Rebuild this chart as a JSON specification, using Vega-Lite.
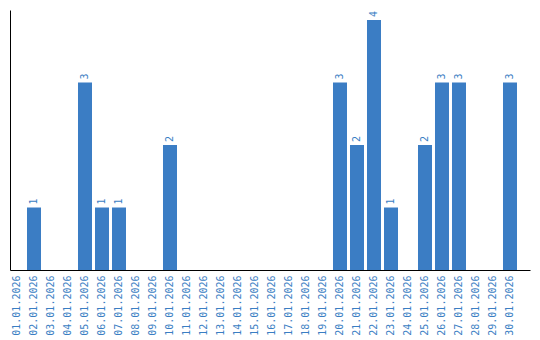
{
  "$schema": "https://vega.github.io/schema/vega-lite/v6.json",
  "width": 520,
  "height": 260,
  "autosize": {"type": "none"},
  "padding": {"left": 10, "top": 10, "right": 10, "bottom": 70},
  "background": "white",
  "config": {"view": {"stroke": null}},
  "data": {
    "values": [
      {"date": "01.01.2026", "count": 0},
      {"date": "02.01.2026", "count": 1},
      {"date": "03.01.2026", "count": 0},
      {"date": "04.01.2026", "count": 0},
      {"date": "05.01.2026", "count": 3},
      {"date": "06.01.2026", "count": 1},
      {"date": "07.01.2026", "count": 1},
      {"date": "08.01.2026", "count": 0},
      {"date": "09.01.2026", "count": 0},
      {"date": "10.01.2026", "count": 2},
      {"date": "11.01.2026", "count": 0},
      {"date": "12.01.2026", "count": 0},
      {"date": "13.01.2026", "count": 0},
      {"date": "14.01.2026", "count": 0},
      {"date": "15.01.2026", "count": 0},
      {"date": "16.01.2026", "count": 0},
      {"date": "17.01.2026", "count": 0},
      {"date": "18.01.2026", "count": 0},
      {"date": "19.01.2026", "count": 0},
      {"date": "20.01.2026", "count": 3},
      {"date": "21.01.2026", "count": 2},
      {"date": "22.01.2026", "count": 4},
      {"date": "23.01.2026", "count": 1},
      {"date": "24.01.2026", "count": 0},
      {"date": "25.01.2026", "count": 2},
      {"date": "26.01.2026", "count": 3},
      {"date": "27.01.2026", "count": 3},
      {"date": "28.01.2026", "count": 0},
      {"date": "29.01.2026", "count": 0},
      {"date": "30.01.2026", "count": 3}
    ]
  },
  "encoding": {
    "x": {
      "field": "date",
      "type": "ordinal",
      "sort": null,
      "scale": {"paddingInner": 0.17647, "paddingOuter": 0.3824, "align": 0},
      "axis": {
        "title": null,
        "labelAngle": 270,
        "labelAlign": "right",
        "labelBaseline": "middle",
        "labelFont": "DejaVu Sans Mono",
        "labelFontSize": 10,
        "labelColor": "#3a7ec3",
        "labelPadding": 5,
        "ticks": false,
        "domainColor": "#000000",
        "domainWidth": 1,
        "grid": false
      }
    },
    "y": {
      "field": "count",
      "type": "quantitative",
      "scale": {"domain": [0, 4.16], "nice": false},
      "axis": {
        "title": null,
        "labels": false,
        "ticks": false,
        "grid": false,
        "domainColor": "#000000",
        "domainWidth": 1
      }
    }
  },
  "layer": [
    {"mark": {"type": "bar", "color": "#3b7dc4"}},
    {
      "transform": [{"filter": "datum.count > 0"}],
      "mark": {
        "type": "text",
        "angle": 270,
        "align": "left",
        "baseline": "middle",
        "dx": 3,
        "font": "DejaVu Sans Mono",
        "fontSize": 10,
        "color": "#3a7ec3"
      },
      "encoding": {"text": {"field": "count", "type": "quantitative"}}
    }
  ]
}
